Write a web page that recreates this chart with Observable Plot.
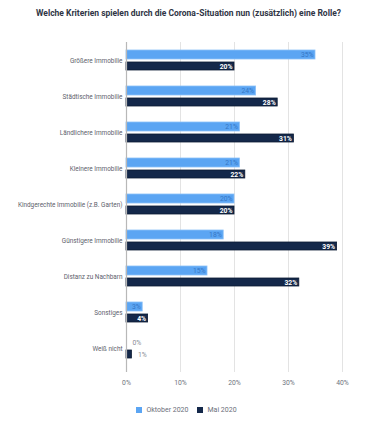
<!DOCTYPE html>
<html><head><meta charset="utf-8">
<script src="https://cdn.jsdelivr.net/npm/d3@7"></script>
<script src="https://cdn.jsdelivr.net/npm/@observablehq/plot@0.6"></script>
<style>
body{margin:0;background:#fff;font-family:Roboto,"Noto Sans",sans-serif;}
#title{height:26px;line-height:27px;text-align:center;font-size:8.5px;font-weight:700;color:#2f3545;padding-left:2px;}
#legend{display:flex;justify-content:center;gap:9px;font-size:7px;color:#6b6f7a;margin-top:16px;padding-right:2px;}
#legend span{display:inline-flex;align-items:center;gap:4px;}
#legend i{display:inline-block;width:6px;height:6px;}
</style></head>
<body>
<div id="title">Welche Kriterien spielen durch die Corona-Situation nun (zusätzlich) eine Rolle?</div>
<div id="chart"></div>
<div id="legend"><span><i style="background:#5ba5f3"></i>Oktober 2020</span><span><i style="background:#14284a"></i>Mai 2020</span></div>
<script>
const categories = ["Größere Immobilie","Städtische Immobilie","Ländlichere Immobilie","Kleinere Immobilie","Kindgerechte Immobilie (z.B. Garten)","Günstigere Immobilie","Distanz zu Nachbarn","Sonstiges","Weiß nicht"];
const oktober2020 = [35,24,21,21,20,18,15,3,0];
const mai2020 = [20,28,31,22,20,39,32,4,1];
const xTicks = [0,10,20,30,40];

const okt = categories.map((c,i)=>({cat:c,v:oktober2020[i]}));
const mai = categories.map((c,i)=>({cat:c,v:mai2020[i]}));
const inside = d => d.v >= 3;

const chart = Plot.plot({
  width: 375,
  height: 364,
  marginTop: 16,
  marginBottom: 24,
  marginLeft: 126,
  marginRight: 33,
  style: {fontFamily: "Roboto, 'Noto Sans', sans-serif", background: "transparent"},
  x: {domain: [0,40], ticks: xTicks, tickFormat: d => d + "%", label: null},
  y: {domain: categories, padding: 0, label: null},
  marks: [
    Plot.ruleX(xTicks.slice(1), {stroke: "#e3e3e3", strokeWidth: 1, insetBottom: -6}),
    Plot.barX(okt, {x: "v", y: "cat", fill: "#5ba5f3", stroke: "#8cc0f7", strokeWidth: 0.8, insetTop: 8, insetBottom: 19}),
    Plot.barX(mai, {x: "v", y: "cat", fill: "#14284a", stroke: "#0b1a33", strokeWidth: 0.8, insetTop: 20, insetBottom: 8}),
    Plot.ruleX([0], {stroke: "#b8b8b8", strokeWidth: 1.2, insetBottom: -6}),
    Plot.text(okt.filter(inside), {x: "v", y: "cat", text: d => d.v + "%", textAnchor: "end", dx: -2, dy: -5.5, fill: "#3576c6", fontSize: 6.8}),
    Plot.text(okt.filter(d => !inside(d)), {x: "v", y: "cat", text: d => d.v + "%", textAnchor: "start", dx: 6, dy: -5.5, fill: "#8a8d96", fontSize: 6.8}),
    Plot.text(mai.filter(inside), {x: "v", y: "cat", text: d => d.v + "%", textAnchor: "end", dx: -2, dy: 6, fill: "#ffffff", fontWeight: 700, fontSize: 6.8}),
    Plot.text(mai.filter(d => !inside(d)), {x: "v", y: "cat", text: d => d.v + "%", textAnchor: "start", dx: 6, dy: 6, fill: "#8a8d96", fontSize: 6.8}),
    Plot.axisX({ticks: xTicks, tickFormat: d => d + "%", tickSize: 0, tickPadding: 14, fontSize: 6.8, fill: "#70747e", label: null}),
    Plot.axisY({tickSize: 0, tickPadding: 4, fontSize: 6.4, fill: "#5e626c", label: null})
  ]
});
document.getElementById("chart").appendChild(chart);
</script>
</body></html>
